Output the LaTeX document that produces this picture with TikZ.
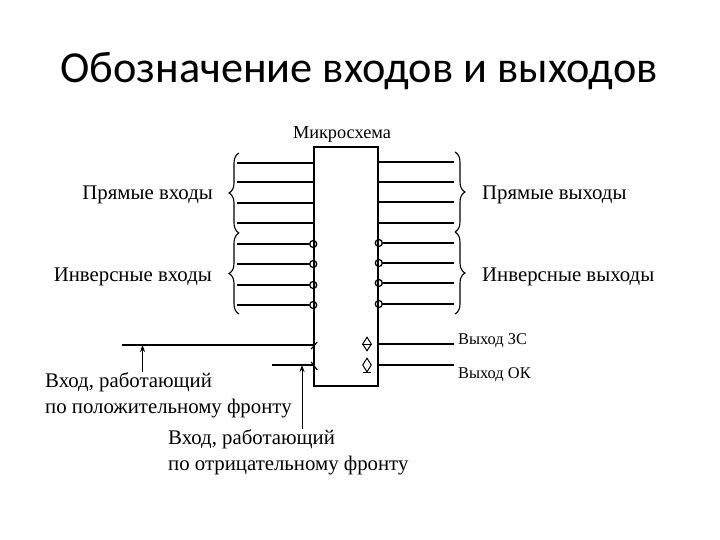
\documentclass[tikz,border=0pt]{standalone}
\usepackage{fontspec}
\setmainfont{Liberation Serif}
\newfontfamily\titlefont{Carlito}
\usetikzlibrary{positioning, arrows.meta, shapes.geometric, calc, decorations.pathreplacing}

\begin{document}
\begin{tikzpicture}[
  x=1pt, y=-1pt,
  chipbox/.style={draw, line width=1.6pt, minimum width=64pt, minimum height=239pt, inner sep=0pt},
  wire/.style={line width=1.5pt},
  thinwire/.style={line width=1.1pt},
  bubble/.style={draw, circle, line width=1.3pt, minimum size=7pt, inner sep=0pt},
  mark3s/.style={draw, diamond, line width=1pt, minimum width=9pt, minimum height=14pt, inner sep=0pt},
  bracket/.style={decorate, decoration={brace, amplitude=10pt}, line width=1.1pt},
  label/.style={font=\fontsize{20.8}{26}\selectfont, inner sep=0pt, align=left},
  smalllabel/.style={font=\fontsize{16.4}{20}\selectfont, inner sep=0pt},
  pointer/.style={-{Stealth[length=7pt, width=5pt]}, line width=1pt}
]
  \useasboundingbox (0,0) rectangle (720,540);
  \node[font=\titlefont\fontsize{44.3}{50}\selectfont, inner sep=0pt] (title) at (359,71) {Обозначение входов и выходов};
  \node[chipbox] (chip) at (346,266.5) {};
  \node[font=\fontsize{18.3}{22}\selectfont, inner sep=0pt] (chipname) at (342,134) {Микросхема};

  % входы
  \coordinate (in1) at (237,163);
  \coordinate (in2) at (237,182);
  \coordinate (in3) at (237,203);
  \coordinate (in4) at (237,223);
  \coordinate (in5) at (237,244);
  \coordinate (in6) at (237,264);
  \coordinate (in7) at (237,285);
  \coordinate (in8) at (237,305);
  \node[bubble] (nin5) at (chip.west |- in5) {};
  \node[bubble] (nin6) at (chip.west |- in6) {};
  \node[bubble] (nin7) at (chip.west |- in7) {};
  \node[bubble] (nin8) at (chip.west |- in8) {};
  \draw[wire] (in1) -- (in1 -| chip.west);
  \draw[wire] (in2) -- (in2 -| chip.west);
  \draw[wire] (in3) -- (in3 -| chip.west);
  \draw[wire] (in4) -- (in4 -| chip.west);
  \draw[wire] (in5) -- (nin5);
  \draw[wire] (in6) -- (nin6);
  \draw[wire] (in7) -- (nin7);
  \draw[wire] (in8) -- (nin8);

  % выходы
  \coordinate (out1) at (454,162);
  \coordinate (out2) at (454,182);
  \coordinate (out3) at (454,202);
  \coordinate (out4) at (454,223);
  \coordinate (out5) at (454,243);
  \coordinate (out6) at (454,263);
  \coordinate (out7) at (454,283);
  \coordinate (out8) at (454,304);
  \node[bubble] (nout5) at (chip.east |- out5) {};
  \node[bubble] (nout6) at (chip.east |- out6) {};
  \node[bubble] (nout7) at (chip.east |- out7) {};
  \node[bubble] (nout8) at (chip.east |- out8) {};
  \draw[wire] (out1) -- (out1 -| chip.east);
  \draw[wire] (out2) -- (out2 -| chip.east);
  \draw[wire] (out3) -- (out3 -| chip.east);
  \draw[wire] (out4) -- (out4 -| chip.east);
  \draw[wire] (out5) -- (nout5);
  \draw[wire] (out6) -- (nout6);
  \draw[wire] (out7) -- (nout7);
  \draw[wire] (out8) -- (nout8);

  % скобки
  \coordinate (bl0) at (239,153);
  \coordinate (bl1) at (239,233);
  \coordinate (bl2) at (239,314);
  \coordinate (br0) at (455,152);
  \coordinate (br1) at (455,232);
  \coordinate (br2) at (455,314);
  \draw[bracket] (bl1) -- (bl0);
  \draw[bracket] (bl2) -- (bl1);
  \draw[bracket] (br0) -- (br1);
  \draw[bracket] (br1) -- (br2);
  \node[label, anchor=east] (direct_in) at (213,195) {Прямые входы};
  \node[label, anchor=east] (inv_in) at (212,277) {Инверсные входы};
  \node[label, anchor=west] (direct_out) at (482,195) {Прямые выходы};
  \node[label, anchor=west] (inv_out) at (482,277) {Инверсные выходы};

  % тактовые входы
  \coordinate (clkp) at (122,345);
  \coordinate (clkn) at (272,365);
  \draw[thinwire] (clkp) -- (clkp -| chip.west);
  \draw[wire] (clkn) -- (clkn -| chip.west);
  \draw[line width=1.1pt] ($(clkp -| chip.west)+(-2,4)$) -- ($(clkp -| chip.west)+(4,-3)$);
  \draw[line width=1.1pt] ($(clkn -| chip.west)+(-2,-3)$) -- ($(clkn -| chip.west)+(4,5)$);
  \node[label, anchor=north west] (posedge) at (45,372) {Вход, работающий\\по положительному фронту};
  \node[label, anchor=north west] (negedge) at (168,429) {Вход, работающий\\по отрицательному фронту};
  \coordinate (ptrp) at (142.5,372);
  \coordinate (ptrn) at (302,429);
  \draw[pointer] (ptrp) -- (ptrp |- clkp);
  \draw[pointer] (ptrn) -- (ptrn |- clkn);

  % выходы 3С и ОК
  \node[mark3s] (mark3) at (367,344) {};
  \node[mark3s] (markok) at (367,365) {};
  \draw[line width=1pt] (mark3.west) -- (mark3.east);
  \draw[line width=1pt] ($(markok.south)+(-4,0)$) -- ($(markok.south)+(4,0)$);
  \node[smalllabel, anchor=west] (out3s) at (458,341) {Выход ЗС};
  \node[smalllabel, anchor=west] (outok) at (458,375) {Выход ОК};
  \coordinate (endz) at (454,344);
  \coordinate (endok) at (454,365);
  \draw[wire] (chip.east |- endz) -- (endz);
  \draw[wire] (chip.east |- endok) -- (endok);
\end{tikzpicture}
\end{document}
